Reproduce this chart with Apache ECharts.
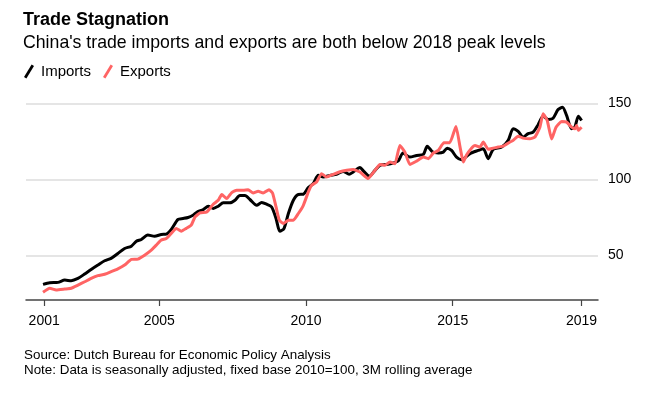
<!DOCTYPE html>
<html>
<head>
<meta charset="utf-8">
<script src="https://cdn.jsdelivr.net/npm/echarts@6/dist/echarts.min.js"></script>
<style>
html,body{margin:0;padding:0;background:#fff;}
#chart{width:656px;height:393px;}
</style>
</head>
<body>
<div id="chart"></div>
<script>
// Imports (black) — decimal years and index values
var importYears = [2001.04,2001.27,2001.55,2001.78,2002.00,2002.23,2002.46,2002.68,2002.91,2003.14,2003.36,2003.59,2003.82,2004.05,2004.22,2004.39,2004.61,2004.84,2005.07,2005.24,2005.41,2005.64,2005.81,2005.98,2006.15,2006.29,2006.50,2006.67,2006.84,2007.01,2007.18,2007.41,2007.58,2007.75,2007.92,2008.09,2008.32,2008.49,2008.66,2008.83,2008.98,2009.11,2009.25,2009.40,2009.57,2009.74,2009.91,2010.08,2010.25,2010.42,2010.59,2010.82,2011.04,2011.27,2011.47,2011.61,2011.84,2011.97,2012.16,2012.35,2012.52,2012.75,2012.97,2013.14,2013.31,2013.54,2013.77,2014.00,2014.13,2014.32,2014.51,2014.68,2014.81,2014.96,2015.13,2015.30,2015.59,2015.87,2016.04,2016.21,2016.38,2016.67,2016.89,2017.06,2017.23,2017.40,2017.57,2017.74,2017.91,2018.08,2018.25,2018.42,2018.59,2018.74,2018.88,2019.05,2019.16,2019.28,2019.39];
var importValues = [30.9,32.0,32.2,33.7,33.3,34.8,37.7,40.7,43.6,46.4,48.0,51.2,54.5,56.0,59.3,60.4,63.3,62.6,63.7,63.9,67.0,73.6,74.2,74.9,76.4,78.5,80.1,82.3,80.8,82.3,84.5,84.5,86.2,89.3,89.3,86.7,82.9,84.7,83.6,81.8,74.2,65.8,67.6,77.5,86.2,90.0,90.2,94.6,97.2,102.6,101.5,102.6,103.3,105.2,103.3,104.8,107.7,105.2,102.0,105.9,109.2,109.8,110.7,112.0,117.3,114.6,115.7,116.4,121.8,117.9,117.3,117.9,120.5,119.0,114.6,112.9,116.9,119.0,120.1,113.6,119.7,121.2,125.6,133.3,131.5,127.8,130.0,131.0,135.9,141.5,139.4,140.2,145.9,147.4,142.0,133.3,134.3,141.5,138.7];

// Exports (red)
var exportYears = [2001.04,2001.27,2001.49,2001.78,2002.00,2002.23,2002.46,2002.68,2002.91,2003.14,2003.36,2003.59,2003.82,2004.05,2004.27,2004.50,2004.73,2004.90,2005.07,2005.24,2005.41,2005.58,2005.75,2005.92,2006.09,2006.22,2006.39,2006.62,2006.84,2007.01,2007.13,2007.30,2007.47,2007.64,2007.86,2008.03,2008.20,2008.37,2008.54,2008.74,2008.86,2008.98,2009.09,2009.23,2009.40,2009.57,2009.74,2009.91,2010.08,2010.19,2010.36,2010.53,2010.70,2010.93,2011.16,2011.39,2011.61,2011.84,2012.12,2012.35,2012.52,2012.69,2012.86,2013.03,2013.20,2013.37,2013.54,2013.77,2014.00,2014.17,2014.34,2014.51,2014.70,2014.90,2015.11,2015.25,2015.36,2015.47,2015.64,2015.76,2015.93,2016.04,2016.21,2016.38,2016.55,2016.72,2016.95,2017.06,2017.23,2017.40,2017.63,2017.80,2017.97,2018.08,2018.22,2018.37,2018.52,2018.71,2018.88,2019.05,2019.16,2019.22,2019.28,2019.39];
var exportValues = [25.7,28.3,27.2,27.8,28.3,30.4,32.6,34.8,36.6,37.5,39.2,41.1,43.6,47.3,47.5,50.1,53.4,56.7,60.0,61.1,64.4,67.7,65.9,67.7,69.8,75.3,77.9,78.5,83.6,86.2,90.0,87.3,91.3,92.8,92.8,93.2,91.0,92.1,91.0,93.2,91.0,81.8,73.1,70.9,73.1,73.1,77.5,82.9,91.7,96.1,98.2,103.7,101.5,103.3,105.0,105.9,106.4,104.8,100.5,105.9,109.8,109.2,111.4,110.3,122.3,117.9,109.8,112.0,114.6,113.6,117.3,119.0,124.1,124.1,134.8,121.2,111.4,116.0,120.5,122.3,121.2,124.5,119.7,120.5,121.2,121.8,124.5,125.6,128.4,127.1,126.7,127.8,134.3,143.1,138.7,126.5,134.3,138.1,137.6,134.3,133.3,135.4,132.2,134.3];

// Axis tick positions (decimal years) and their labels
var xTickValues = [2001.08, 2005, 2010, 2015, 2019.39];
var xTickLabels = ['2001', '2005', '2010', '2015', '2019'];
var yTickValues = [50, 100, 150];

var seriesNames = ['Imports', 'Exports'];

function pairs(xs, ys) { return xs.map(function (x, i) { return [x, ys[i]]; }); }

var FONT = '"Liberation Sans", Arial, "DejaVu Sans", sans-serif';
var chart = echarts.init(document.getElementById('chart'), null, {renderer: 'canvas'});
var slash = 'path://M0,13 L8,0 L10.5,1.5 L2.5,14.5 Z';

chart.setOption({
  animation: false,
  backgroundColor: '#fff',
  title: [
    {
      text: 'Trade Stagnation',
      subtext: "China's trade imports and exports are both below 2018 peak levels",
      left: 23, top: 11, itemGap: 5,
      textStyle: {fontFamily: FONT, fontSize: 18, fontWeight: 'bold', color: '#000'},
      subtextStyle: {fontFamily: FONT, fontSize: 17.7, color: '#000'},
      padding: 0
    },
    {
      text: 'Source: Dutch Bureau for Economic Policy Analysis\nNote: Data is seasonally adjusted, fixed base 2010=100, 3M rolling average',
      left: 24, top: 348, padding: 0,
      textStyle: {fontFamily: FONT, fontSize: 13.4, fontWeight: 'normal', color: '#000', lineHeight: 15}
    }
  ],
  legend: {
    left: 24, top: 64, padding: 0,
    itemWidth: 10, itemHeight: 14, itemGap: 12,
    icon: slash,
    data: seriesNames,
    textStyle: {fontFamily: FONT, fontSize: 15, color: '#000', padding: [0,0,0,2]}
  },
  grid: {left: 26, right: 58, top: 103.3, bottom: 93, containLabel: false},
  xAxis: {
    type: 'value',
    min: 2000.46, max: 2019.95,
    axisLine: {show: true, lineStyle: {color: '#444', width: 1.5}},
    axisTick: {show: true, length: 6, lineStyle: {color: '#444', width: 1.2}, customValues: xTickValues},
    axisLabel: {
      customValues: xTickValues,
      margin: 14,
      fontFamily: FONT, fontSize: 14, color: '#000',
      formatter: function (v) {
        var i = xTickValues.indexOf(v);
        return i >= 0 ? xTickLabels[i] : String(Math.round(v));
      }
    },
    splitLine: {show: false}
  },
  yAxis: {
    type: 'value',
    position: 'right',
    min: 20.6, max: 150,
    axisLine: {show: false},
    axisTick: {show: false, customValues: yTickValues},
    axisLabel: {
      customValues: yTickValues,
      margin: 10, fontFamily: FONT, fontSize: 14, color: '#000', align: 'left'
    },
    splitLine: {show: true, lineStyle: {color: '#dcdcdc', width: 1.5}}
  },
  series: [
    {
      name: seriesNames[0], type: 'line', showSymbol: false, symbol: 'none',
      data: pairs(importYears, importValues),
      smooth: 0.25,
      lineStyle: {color: '#000', width: 3, join: 'round'},
      itemStyle: {color: '#000'}
    },
    {
      name: seriesNames[1], type: 'line', showSymbol: false, symbol: 'none',
      data: pairs(exportYears, exportValues),
      smooth: 0.15,
      lineStyle: {color: '#ff6464', width: 3, join: 'round'},
      itemStyle: {color: '#ff6464'}
    }
  ]
});
</script>
</body>
</html>
